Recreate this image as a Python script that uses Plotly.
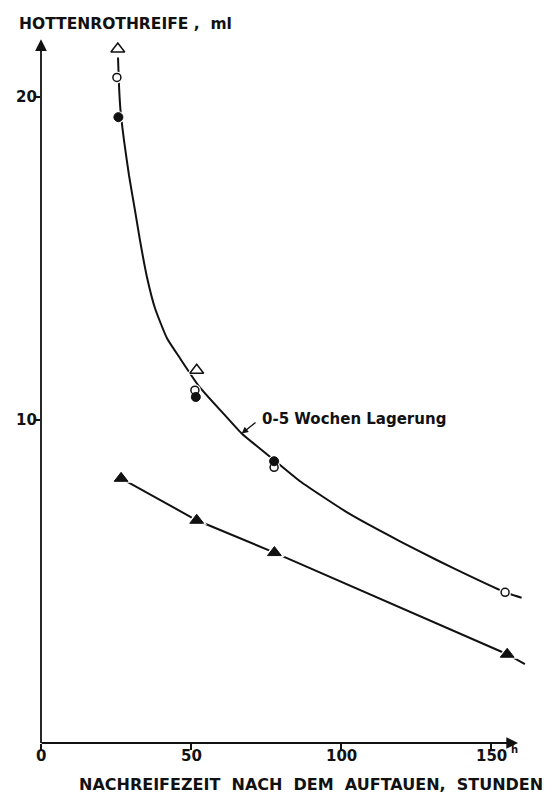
import plotly.graph_objects as go

# ---- data (axis units: hours, ml) ----
open_tri_x = [25.6, 51.9]
open_tri_y = [21.5, 11.55]

open_circ_x = [25.3, 51.3, 77.7, 154.7]
open_circ_y = [20.62, 10.93, 8.54, 4.67]

fill_circ_x = [25.8, 51.6, 77.7]
fill_circ_y = [19.39, 10.72, 8.73]

fill_tri_x = [26.7, 51.9, 77.8, 155.4]
fill_tri_y = [8.20, 6.90, 5.90, 2.75]

# hand-drawn fitted curve (upper)
curve_x = [25.67, 26.0, 26.5, 27.67, 29.33, 31.33, 33.0, 35.33, 38.0, 42.0,
           46.33, 52.67, 60.67, 66.9, 77.0, 86.33, 103.0, 119.67, 131.9, 143.0,
           154.67, 160.2]
curve_y = [21.24, 20.37, 19.60, 18.67, 17.59, 16.50, 15.57, 14.43, 13.47, 12.54,
           11.92, 11.05, 10.22, 9.59, 8.82, 8.11, 7.09, 6.25, 5.67, 5.17,
           4.67, 4.50]

# lower straight line
line_x = [26.7, 51.9, 77.8, 155.4, 161.3]
line_y = [8.20, 6.90, 5.90, 2.75, 2.44]

x_ticks = [0, 50, 100, 150]
x_ticktext = ["0", "50", "100", "150"]
y_ticks = [10, 20]
y_ticktext = ["10", "20"]

FONT = "DejaVu Sans"
BLACK = "#111111"

fig = go.Figure()

# lines
fig.add_trace(go.Scatter(x=curve_x, y=curve_y, mode="lines",
                         line=dict(color=BLACK, width=2, shape="spline", smoothing=0.5),
                         cliponaxis=False, hoverinfo="skip"))
fig.add_trace(go.Scatter(x=line_x, y=line_y, mode="lines",
                         line=dict(color=BLACK, width=2),
                         cliponaxis=False, hoverinfo="skip"))

# white halos (gaps in lines around markers)
fig.add_trace(go.Scatter(x=open_tri_x, y=open_tri_y, mode="markers",
                         marker=dict(symbol="triangle-up", size=18, color="white"),
                         cliponaxis=False, hoverinfo="skip"))
fig.add_trace(go.Scatter(x=fill_tri_x, y=fill_tri_y, mode="markers",
                         marker=dict(symbol="triangle-up", size=18, color="white"),
                         cliponaxis=False, hoverinfo="skip"))
fig.add_trace(go.Scatter(x=open_circ_x + fill_circ_x, y=open_circ_y + fill_circ_y,
                         mode="markers",
                         marker=dict(symbol="circle", size=12, color="white"),
                         cliponaxis=False, hoverinfo="skip"))

# markers
fig.add_trace(go.Scatter(x=open_tri_x, y=open_tri_y, mode="markers",
                         marker=dict(symbol="triangle-up", size=12, color="white",
                                     line=dict(color=BLACK, width=1.5)),
                         cliponaxis=False))
fig.add_trace(go.Scatter(x=fill_tri_x, y=fill_tri_y, mode="markers",
                         marker=dict(symbol="triangle-up", size=12, color=BLACK,
                                     line=dict(color=BLACK, width=1)),
                         cliponaxis=False))
fig.add_trace(go.Scatter(x=open_circ_x, y=open_circ_y, mode="markers",
                         marker=dict(symbol="circle", size=8, color="white",
                                     line=dict(color=BLACK, width=1.5)),
                         cliponaxis=False))
fig.add_trace(go.Scatter(x=fill_circ_x, y=fill_circ_y, mode="markers",
                         marker=dict(symbol="circle", size=9, color=BLACK,
                                     line=dict(color=BLACK, width=1)),
                         cliponaxis=False))

annotations = [
    # y axis with arrow
    dict(x=0, y=21.8, ax=0, ay=-0.05, xref="x", yref="y", axref="x", ayref="y",
         showarrow=True, arrowhead=2, arrowsize=1.3, arrowwidth=1.8,
         arrowcolor=BLACK, text="", standoff=0, startstandoff=0),
    # x axis with arrow
    dict(x=159, y=0, ax=-0.3, ay=0, xref="x", yref="y", axref="x", ayref="y",
         showarrow=True, arrowhead=2, arrowsize=1.3, arrowwidth=1.8,
         arrowcolor=BLACK, text="", standoff=0, startstandoff=0),
    # curve label arrow
    dict(x=66.9, y=9.59, ax=72.0, ay=9.97, xref="x", yref="y", axref="x", ayref="y",
         showarrow=True, arrowhead=2, arrowsize=1.0, arrowwidth=1.3,
         arrowcolor=BLACK, text="", standoff=0),
    dict(x=73.0, y=10.03, xref="x", yref="y", xanchor="left", yanchor="middle",
         text="<b>0-5 Wochen Lagerung</b>", showarrow=False,
         font=dict(family=FONT, size=15, color=BLACK)),
    # y axis title
    dict(x=-0.049, y=0.995, xref="paper", yref="paper", xanchor="left", yanchor="middle",
         text="<b>HOTTENROTHREIFE ,  ml</b>", showarrow=False,
         font=dict(family=FONT, size=15.5, color=BLACK)),
    # x axis title
    dict(x=1.0307, y=-0.058, xref="paper", yref="paper", xanchor="right", yanchor="middle",
         text="<b>NACHREIFEZEIT  NACH  DEM  AUFTAUEN,  STUNDEN</b>", showarrow=False,
         font=dict(family=FONT, size=16, color=BLACK)),
    # hour superscript
    dict(x=0.957, y=-0.0085, xref="paper", yref="paper", xanchor="left", yanchor="middle",
         text="<b>h</b>", showarrow=False,
         font=dict(family=FONT, size=10, color=BLACK)),
]

# tick labels (placed close to the axis like the original)
for v, t in zip(x_ticks, x_ticktext):
    annotations.append(dict(x=v, y=-0.0185, xref="x", yref="paper",
                            xanchor="center", yanchor="middle", text="<b>%s</b>" % t,
                            showarrow=False,
                            font=dict(family=FONT, size=15, color=BLACK)))
for v, t in zip(y_ticks, y_ticktext):
    annotations.append(dict(x=-0.004, y=v, xref="paper", yref="y",
                            xanchor="right", yanchor="middle", text="<b>%s</b>" % t,
                            showarrow=False,
                            font=dict(family=FONT, size=15, color=BLACK)))

fig.update_layout(
    width=560, height=799,
    margin=dict(l=41, r=30, t=20, b=56),
    paper_bgcolor="white", plot_bgcolor="white",
    showlegend=False,
    annotations=annotations,
    font=dict(family=FONT, size=15, color=BLACK),
    xaxis=dict(range=[0, 163], showgrid=False, zeroline=False, showline=False,
               tickmode="array", tickvals=x_ticks, showticklabels=False,
               ticks="outside", ticklen=6, tickwidth=1.5, tickcolor=BLACK),
    yaxis=dict(range=[0, 22.4], showgrid=False, zeroline=False, showline=False,
               tickmode="array", tickvals=y_ticks, showticklabels=False,
               ticks="outside", ticklen=6, tickwidth=1.5, tickcolor=BLACK),
)

fig.write_html("out.html")
